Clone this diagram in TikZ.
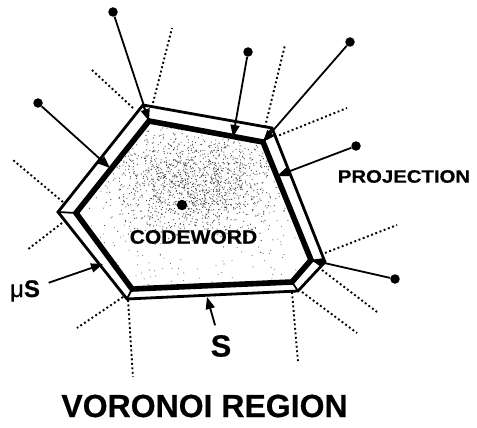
\documentclass[tikz,border=0pt]{standalone}
\usepackage{fontspec}
\setmainfont{Liberation Sans}
\newfontfamily\heavy[UprightFeatures={FakeBold=0.5}, BoldFeatures={FakeBold=0.5}]{Liberation Sans}
\usetikzlibrary{arrows.meta}
\begin{document}
\begin{tikzpicture}[x=1pt,y=-1pt,
  outerln/.style={line width=2.8pt, line join=miter},
  innerln/.style={line width=5.6pt, line join=miter},
  rung/.style={line width=1.8pt},
  bound/.style={line width=1.9pt, dash pattern=on 1.9pt off 2.6pt},
  pt/.style={circle, fill=black, inner sep=0pt, minimum size=9.5pt},
  proj/.style={line width=1.8pt, -{Triangle[length=12pt,width=9pt]}},
  lbl/.style={inner sep=0pt}
]
\useasboundingbox (0,0) rectangle (477,428);

% outer (scaled) polygon and inner polygon vertices
\coordinate (O1) at (143,105);
\coordinate (O2) at (272,128);
\coordinate (O3) at (325,262);
\coordinate (O4) at (298,291);
\coordinate (O5) at (127,299);
\coordinate (O6) at (58,212);
\coordinate (I1) at (149,121);
\coordinate (I2) at (263,142);
\coordinate (I3) at (311,260);
\coordinate (I4) at (292,282);
\coordinate (I5) at (132,289);
\coordinate (I6) at (76,213);

% stippled interior
\begin{scope}
  \clip (I1) -- (I2) -- (I3) -- (I4) -- (I5) -- (I6) -- cycle;
  \pgfmathsetseed{42}
  \foreach \i in {1,...,1500}{
    \pgfmathsetmacro\px{198+40*(rand+rand+rand)}
    \pgfmathsetmacro\py{182+26*(rand+rand+rand)}
    \fill[black!75] (\px,\py) circle (0.6pt);
  }
  \foreach \i in {1,...,300}{
    \pgfmathsetmacro\px{70+rnd*250}
    \pgfmathsetmacro\py{120+rnd*175}
    \fill[black!60] (\px,\py) circle (0.55pt);
  }
\end{scope}

% boundaries of the cell
\draw[outerln] (O1) -- (O2) -- (O3) -- (O4) -- (O5) -- (O6) -- cycle;
\draw[innerln] (I1) -- (I2) -- (I3) -- (I4) -- (I5) -- (I6) -- cycle;
\foreach \k in {1,...,6} \draw[rung] (O\k) -- (I\k);

% normal-cone boundaries at the vertices
\foreach \ax/\ay/\bx/\by in {153/103/172/28, 133/108/92/70, 63/202/13/160,
    62/223/27/250, 123/297/77/328, 128/300/133/377, 292/292/298/362,
    302/292/357/333, 322/270/377/312, 325/253/397/225, 275/137/347/108,
    265/127/285/45}
  \draw[bound] (\ax,\ay) -- (\bx,\by);

% outside points and their projections
\node[pt] (p1) at (38,103) {};
\node[pt] (p2) at (113,12) {};
\node[pt] (p3) at (248,52) {};
\node[pt] (p4) at (350,42) {};
\node[pt] (p5) at (356,146) {};
\node[pt] (p6) at (395,279) {};
\node[pt, minimum size=10.5pt] (c0) at (182,205) {};

\coordinate (t1) at (110,168);
\coordinate (t3) at (233,137);
\coordinate (t5) at (277,176);
\coordinate (tmu) at (103,264);
\coordinate (ts) at (207,297);

\draw[proj] (p1) -- (t1);
\draw[proj] (p2) -- (I1);
\draw[proj] (p3) -- (t3);
\draw[proj] (p4) -- (I2);
\draw[proj] (p5) -- (t5);
\draw[proj] (p6) -- (I3);

% labels
\node[lbl, xscale=1.08, font=\heavy\bfseries\fontsize{19.5}{22}\selectfont] (cw) at (193.5,237) {CODEWORD};
\node[lbl, xscale=1.13, font=\heavy\bfseries\fontsize{18}{20}\selectfont] (pj) at (404,176.5) {PROJECTION};
\node[lbl, font=\heavy\bfseries\fontsize{32}{36}\selectfont] (vr) at (204.5,406) {VORONOI REGION};
\node[lbl, anchor=base, font=\heavy\fontsize{24}{26}\selectfont] (mu) at (25,297) {μ\textbf{S}};
\node[lbl, font=\heavy\bfseries\fontsize{30.7}{34}\selectfont] (s) at (221,346) {S};

\draw[proj, shorten <=9pt] (mu) -- (tmu);
\draw[proj, shorten <=10pt] (s) -- (ts);
\end{tikzpicture}
\end{document}
